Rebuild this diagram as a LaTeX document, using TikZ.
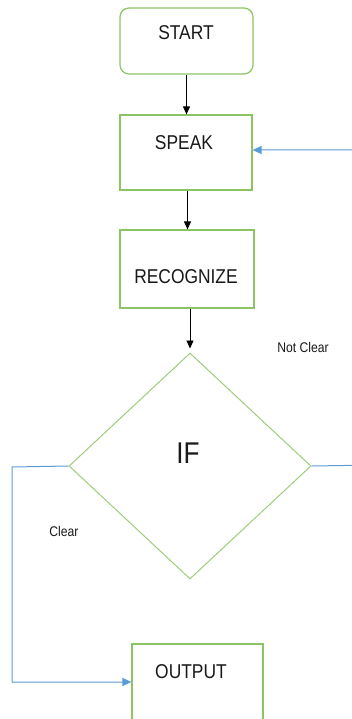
\documentclass[tikz,border=0pt]{standalone}
\usepackage{fontspec}
\setmainfont{Liberation Sans}[FakeStretch=0.87]
\usetikzlibrary{shapes.geometric,arrows.meta}
\definecolor{boxgreen}{RGB}{140,196,100}
\definecolor{lineblue}{RGB}{91,155,213}
\tikzset{
  box/.style={draw=boxgreen, line width=1.2pt, fill=white, inner sep=0pt},
  lbl/.style={inner sep=0pt, font=\fontsize{20}{22}\selectfont, text=black!90},
  small/.style={inner sep=0pt, font=\fontsize{14}{16}\selectfont, text=black!90},
  blackarrow/.style={draw=black, line width=0.9pt, -{Triangle[length=8pt,width=7pt]}},
  bluearrow/.style={draw=lineblue, line width=1pt, -{Triangle[length=9pt,width=8pt]}},
}
\begin{document}
\begin{tikzpicture}[x=1pt,y=-1pt]
\useasboundingbox (0,0) rectangle (352,719);
% boxes
\node[box, rounded corners=9pt, minimum width=133pt, minimum height=66pt] (start) at (186.5,41) {};
\node[box, minimum width=132pt, minimum height=75pt] (speak) at (186,152.5) {};
\node[box, minimum width=134pt, minimum height=78pt] (recog) at (187,269) {};
\node[box, draw=boxgreen!85, line width=1pt, shape=diamond, minimum width=242pt, minimum height=226pt] (ifd) at (190,466) {};
\node[box, minimum width=131pt, minimum height=116pt] (output) at (197.5,702) {};
% texts
\node[lbl] (startT) at (186,33) {START};
\node[lbl] (speakT) at (184,143) {SPEAK};
\node[lbl] (recogT) at (186,277) {RECOGNIZE};
\node[lbl, font=\fontsize{30}{32}\selectfont] (ifT) at (188,453) {IF};
\node[lbl] (outT) at (191,672) {OUTPUT};
\node[small] (nclear) at (303,347) {Not Clear};
\node[small] (clear) at (64,531) {Clear};
% coordinates for routing
\coordinate (l1) at (12,467);
\coordinate (l2) at (12,682);
\coordinate (r1) at (375,465);
\coordinate (r2) at (375,150);
% connectors
\draw[blackarrow] (start.south) -- (start.south |- speak.north);
\draw[blackarrow] ([xshift=1.5pt]speak.south) -- ([xshift=1.5pt]speak.south |- recog.north);
\draw[blackarrow, shorten >=4pt] ([xshift=3pt]recog.south) -- ([xshift=3pt]recog.south |- ifd.north);
\draw[bluearrow] (ifd.west) -- (l1) -- (l2) -- (l2 -| output.west);
\draw[bluearrow] (ifd.east) -- (r1) -- (r2) -- (r2 -| speak.east);
\end{tikzpicture}
\end{document}
